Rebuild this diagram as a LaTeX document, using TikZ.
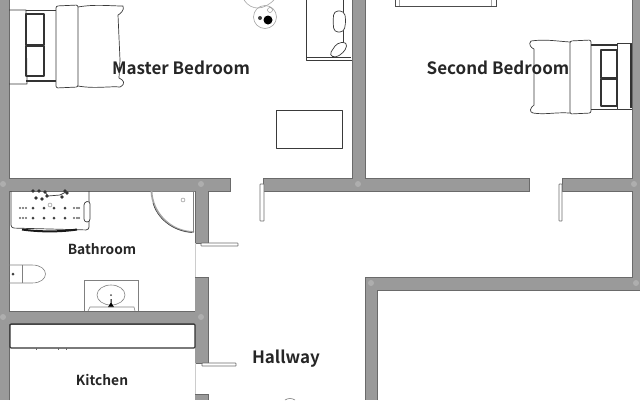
\documentclass[tikz,border=0pt]{standalone}
\usepackage{fontspec}
\setmainfont{Noto Sans CJK SC}[BoldFont={Noto Sans CJK SC Bold}]
\definecolor{wallc}{HTML}{9A9A9A}
\definecolor{walle}{HTML}{6A6A6A}
\definecolor{furn}{HTML}{3A3A3A}
\tikzset{
 wall/.style={fill=wallc,draw=none},
 wedge/.style={draw=walle,line width=0.9pt},
 furnline/.style={draw=furn,line width=0.7pt,line join=round},
 thinline/.style={draw=gray!70,line width=0.6pt},
 heavy/.style={draw=black!80,line width=1.1pt,line join=round},
 doorleaf/.style={draw=gray!85!black,fill=white,line width=0.7pt,rounded corners=0.5pt},
 roomlabel/.style={font=\fontsize{17}{19}\selectfont\bfseries,text=black!85,inner sep=0pt},
 smalllabel/.style={font=\fontsize{13.8}{15}\selectfont\bfseries,text=black!85,inner sep=0pt},
 post/.style={fill=wallc!80!white,draw=none}
}
\begin{document}
\begin{tikzpicture}[x=1pt,y=-1pt]
\useasboundingbox (0,0) rectangle (640,400);
\fill[white] (0,0) rectangle (640,400);
% walls
\foreach \a/\b/\c/\d in {0/0/9/400, 0/178/230/191, 263/178/529/191, 562/178/640/191,
  352/0/365/178, 632/0/640/290, 195/191/208/243, 195/277/208/363, 195/394/208/400,
  0/311/208/324, 365/277/640/290, 365/277/377/400}
  {\fill[wall] (\a,\b) rectangle (\c,\d);}
% wall edges
\draw[wedge] (9,0) -- (9,178) -- (230,178) -- (230,191) -- (208,191) -- (208,243) -- (195,243) -- (195,191) -- (9,191) -- (9,311) -- (195,311);
\draw[wedge] (263,191) -- (263,178) -- (352,178) -- (352,0);
\draw[wedge] (365,0) -- (365,178) -- (529,178) -- (529,191) -- (263,191);
\draw[wedge] (632,0) -- (632,178) -- (562,178) -- (562,191) -- (632,191) -- (632,277) -- (365,277) -- (365,400);
\draw[wedge] (377,400) -- (377,290) -- (640,290);
\draw[wedge] (9,400) -- (9,324) -- (195,324);
\draw[wedge] (195,277) -- (208,277) -- (208,363) -- (195,363);
\draw[wedge] (195,394) -- (208,394) -- (208,400);
\draw[thinline,gray!40] (195,243) -- (195,277);
\draw[thinline,gray!40] (195,363) -- (195,394);
% posts
\foreach \p/\q in {3/184, 201/184, 358/184, 634/184, 3/317, 201/317, 371/283, 636/283}
  {\fill[post] (\p,\q) circle (3);}
% doors
\draw[doorleaf] (201,243) rectangle (238,246);
\draw[doorleaf] (260,184) rectangle (264,221);
\draw[doorleaf] (559,184) rectangle (562,221);
\draw[doorleaf] (202,363) rectangle (236,366);
% master bed
\draw[furnline] (9,10) -- (26,10) -- (27,84) -- (9,84);
\draw[furnline] (26,10) -- (56,10);
\draw[heavy] (26,81) -- (56,81);
\draw[heavy] (26,14) rectangle (44,45);
\draw[heavy] (26,46) rectangle (44,76);
\draw[furnline,rounded corners=2pt] (56,6) -- (78,5) -- (78,87) -- (56,88) -- cycle;
\draw[furnline] (78,7) .. controls (95,4) and (110,6) .. (123,6) .. controls (125,10) and (120,14) .. (118,15) -- (120,60);
\draw[furnline] (78,86) .. controls (95,89) and (110,86) .. (120,87) .. controls (126,84) and (124,80) .. (119,78) -- (120,60);
% second bed
\draw[furnline] (632,43) -- (617,43) -- (617,109) -- (632,109);
\draw[heavy] (591,45) -- (617,45);
\draw[furnline] (591,109) -- (617,109);
\draw[heavy] (601,50) rectangle (617,78);
\draw[heavy] (601,79) rectangle (617,106);
\draw[heavy] (631,44) -- (631,108);
\draw[furnline,rounded corners=2pt] (570,41) -- (591,40) -- (591,113) -- (570,114) -- cycle;
\draw[furnline] (570,42) .. controls (555,41) and (545,39) .. (531,41) .. controls (528,44) and (531,48) .. (534,49) -- (534,75) -- (534,105) .. controls (530,108) and (529,112) .. (533,113) .. controls (545,115) and (555,112) .. (570,113);
% lamp and stool
\draw[thinline] (244,0) .. controls (248,6) and (253,8) .. (258,8) .. controls (264,8) and (270,4) .. (274,0);
\draw[thinline] (265,17) circle (11.5);
\fill[black] (268,20) circle (4.5);
\fill[black!75] (260,18) circle (2);
\draw[gray] (270,10) circle (2.5);
% desk with chair
\draw[furnline] (306,0) -- (306,60) -- (352,60);
\draw[furnline] (307,57) -- (351,57);
\draw[furnline] (343,0) -- (343,52);
\draw[furnline,fill=white,rounded corners=4pt] (334,11) -- (344,11) -- (346,20) -- (344,32) -- (334,32) -- (333,21) -- cycle;
\draw[furnline,fill=white,rounded corners=4pt] (329,55) -- (337,43) -- (347,42) -- (346,50) -- (336,58) -- cycle;
% second bedroom top furniture
\draw[draw=black!70,line width=1pt] (395,0) -- (395,6.5) -- (496,6.5) -- (496,0);
\draw[thinline] (399,0) -- (399,6);
\draw[thinline] (491,0) -- (491,6);
% rug
\draw[furnline] (276,110) rectangle (342,148);
% bathtub
\draw[furnline,rounded corners=3pt] (11,191) -- (11,228) -- (89,230) -- (89,191);
\draw[line width=2pt,black!90] (22,229.5) .. controls (40,232) and (60,232) .. (77,229.5);
\draw[furnline,fill=white,rounded corners=3pt] (84,202) -- (90,201) -- (90,222) -- (84,222) -- cycle;
\foreach \p in {33,44,54,65}{\fill[black!75] (\p,208) circle (1.5); \fill[black!75] (\p,218) circle (1.5);}
\foreach \p in {20,23,26,74,77,79}{\fill[black!60] (\p,208) circle (1.1); \fill[black!60] (\p,218) circle (1.1);}
\foreach \p/\q in {33/191,39/191,45/192,36/198,42/199,47/196,62/197,65/191,67/193}{\fill[black!80] (\p,\q) circle (1.8);}
\draw[furnline] (45,192) -- (48,196) -- (60,195) -- (66,192);
\draw[gray] (50,205) circle (2);
% shower
\draw[thinline,gray] (151,191) -- (195,191);
\draw[draw=gray!70,line width=1.8pt] (151.5,191) .. controls (152,212) and (170,232) .. (194,232);
\draw[furnline,line width=0.5pt] (153,203) .. controls (157,218) and (172,231) .. (192,232.5);
\draw[thinline,gray] (193,191) -- (193,232);
\draw[gray] (183,200) circle (2);
% toilet
\draw[thinline,gray] (9,265) -- (32,265) .. controls (50,265) and (50,283) .. (32,283) -- (9,283);
\draw[thinline,gray] (22,265) -- (22,283);
\fill[gray!50!black] (13,274) circle (1.5);
% sink
\draw[thinline,gray] (84,311) -- (84,280) -- (138,280) -- (138,311);
\draw[thinline,gray] (111,295) ellipse (14 and 10);
\fill[black!70] (111,295) circle (1);
\fill[black] (108,307) -- (110.5,303) -- (110.5,299) -- (111.5,299) -- (111.5,303) -- (114,307) -- cycle;
\draw[thinline,gray] (88,311) -- (90,307) -- (134,307) -- (135,311);
% kitchen counter
\draw[heavy,rounded corners=1pt] (10,324) rectangle (195,348);
\draw[black!60,line width=0.6pt] (36,348) -- (36,350);
\draw[black!60,line width=0.6pt] (58,348) -- (58,350);
\draw[black!60,line width=0.6pt] (66,348) -- (66,350);
% hallway stub
\draw[thinline,gray] (285,400) .. controls (288,398) and (292,398) .. (295,400);
% labels
\node[roomlabel] (master) at (181,68) {Master Bedroom};
\node[roomlabel] (second) at (498,68) {Second Bedroom};
\node[smalllabel] (bath) at (102,249) {Bathroom};
\node[smalllabel] (kitchen) at (102,380) {Kitchen};
\node[roomlabel] (hall) at (286,358.5) {Hallway};
\end{tikzpicture}
\end{document}
